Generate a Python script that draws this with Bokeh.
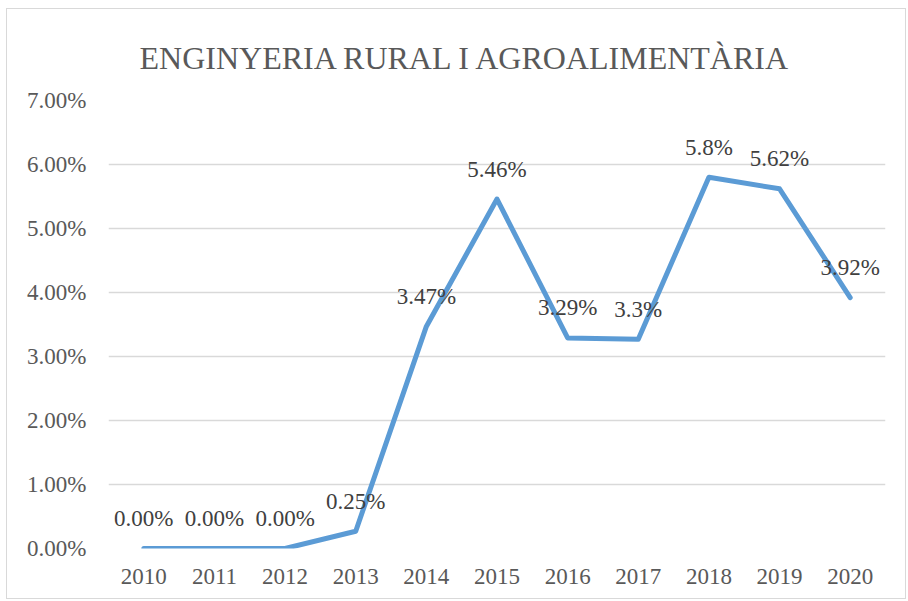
from bokeh.plotting import figure
from bokeh.models import FactorRange, Range1d, FixedTicker, PrintfTickFormatter, ColumnDataSource, Title
from bokeh.core.properties import value
from bokeh.embed import file_html
from bokeh.resources import INLINE

years = ["2010", "2011", "2012", "2013", "2014", "2015", "2016", "2017", "2018", "2019", "2020"]
rates = [0.0, 0.0, 0.0, 0.27, 3.47, 5.46, 3.29, 3.27, 5.80, 5.62, 3.92]
labels = ["0.00%", "0.00%", "0.00%", "0.25%", "3.47%", "5.46%", "3.29%", "3.3%", "5.8%", "5.62%", "3.92%"]
y_ticks = [0, 1, 2, 3, 4, 5, 6, 7]
title_text = "ENGINYERIA RURAL I AGROALIMENTÀRIA"

FONT = "Liberation Serif"

p = figure(width=900, height=591, output_backend="svg", toolbar_location=None,
           x_range=FactorRange(*years, range_padding=0), y_range=Range1d(0, 7),
           min_border_left=101, min_border_right=22, min_border_top=91, min_border_bottom=52)
p.title = Title(text=title_text, text_font=FONT, text_font_size="32px",
                text_color="#595959", text_font_style="normal", align="left",
                offset=31, standoff=50)
p.styles = {"border": "1px solid #d9d9d9", "margin-left": "6px", "margin-top": "8px"}
p.outline_line_color = None
p.background_fill_color = "white"
p.border_fill_color = "white"

src = ColumnDataSource(dict(x=years, y=rates, lab=labels))
p.line("x", "y", source=src, line_color="#5B9BD5", line_width=5,
       line_join="round", line_cap="round")
p.text("x", "y", text="lab", source=src, y_offset=-30, text_align="center",
       text_baseline="middle", text_font=value(FONT), text_font_size="23px",
       text_color="#404040")

p.xgrid.grid_line_color = None
p.ygrid.grid_line_color = "#d9d9d9"
p.ygrid.grid_line_width = 1.5

p.yaxis.ticker = FixedTicker(ticks=y_ticks)
p.yaxis.formatter = PrintfTickFormatter(format="%.2f%%")
for ax in (p.xaxis[0], p.yaxis[0]):
    ax.axis_line_color = None
    ax.major_tick_line_color = None
    ax.minor_tick_line_color = None
    ax.major_tick_out = 0
    ax.major_tick_in = 0
    ax.major_label_text_font = FONT
    ax.major_label_text_font_size = "23px"
    ax.major_label_text_color = "#595959"
p.yaxis.major_label_standoff = 22
p.xaxis.major_label_standoff = 20

open("out.html", "w").write(file_html(p, INLINE))
